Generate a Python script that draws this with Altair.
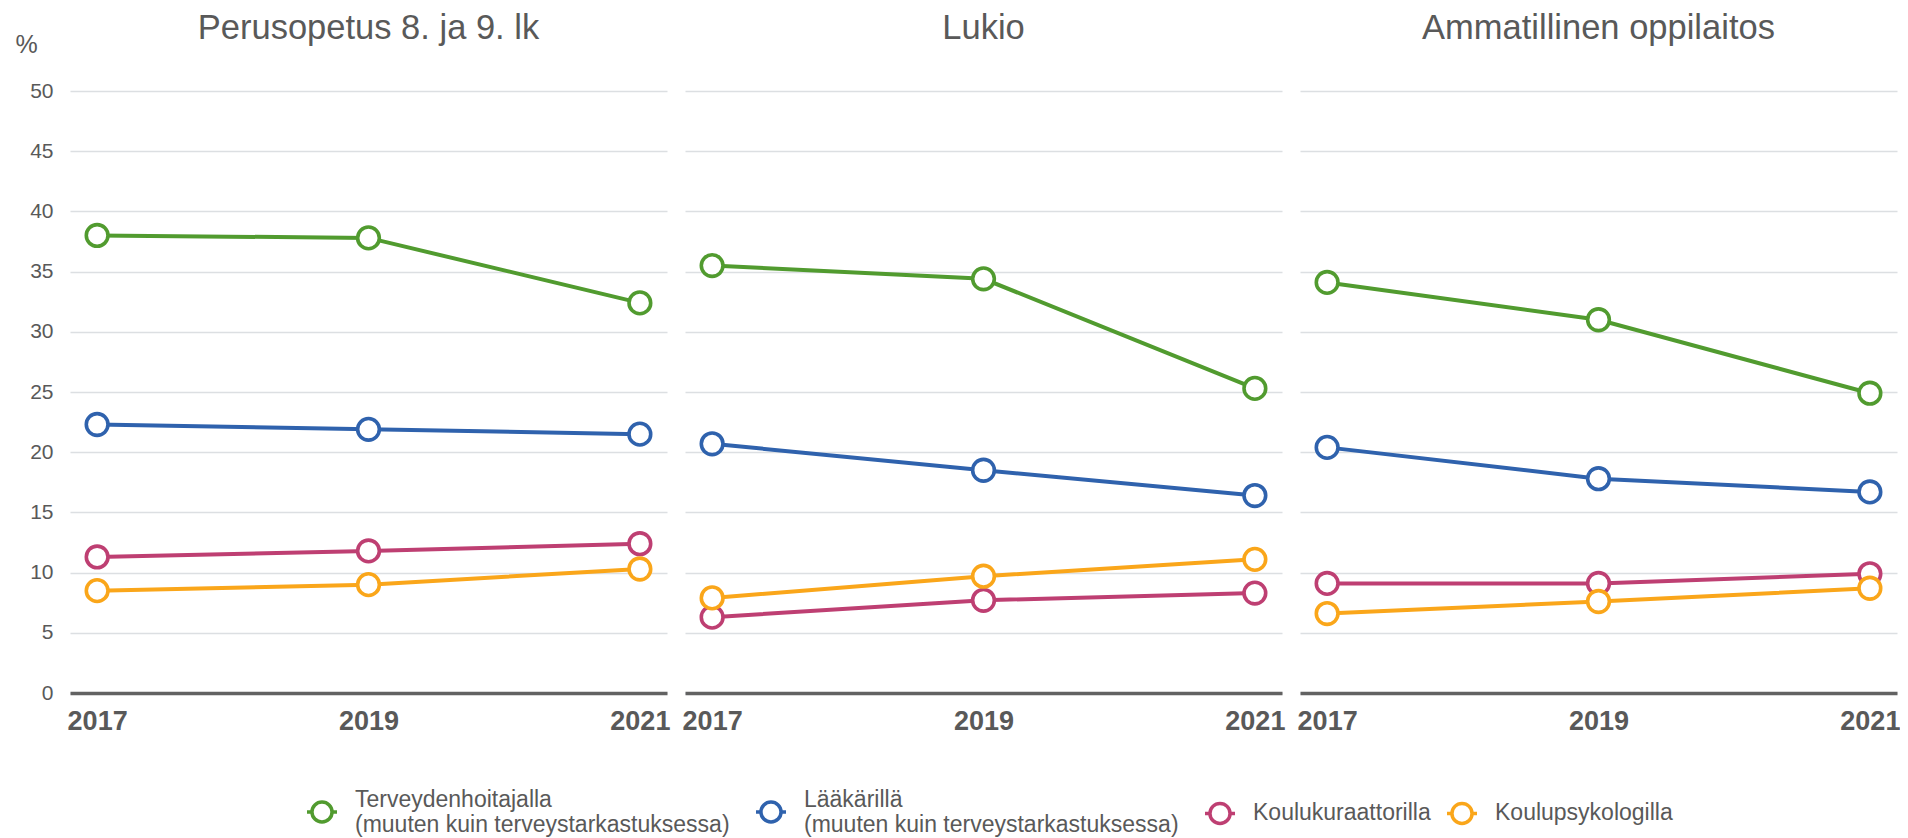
import altair as alt
import pandas as pd

panels = ["Perusopetus 8. ja 9. lk", "Lukio", "Ammatillinen oppilaitos"]
years = [2017, 2019, 2021]
series = [
    "Terveydenhoitajalla\n(muuten kuin terveystarkastuksessa)",
    "Lääkärillä\n(muuten kuin terveystarkastuksessa)",
    "Koulukuraattorilla",
    "Koulupsykologilla",
]
colors = ["#519B2F", "#2F62AD", "#BE3F72", "#FAA61A"]

perus_terv = [38.0, 37.8, 32.4]
perus_laak = [22.3, 21.9, 21.5]
perus_kur = [11.3, 11.8, 12.4]
perus_psyk = [8.5, 9.0, 10.3]

lukio_terv = [35.5, 34.4, 25.3]
lukio_laak = [20.7, 18.5, 16.4]
lukio_kur = [6.3, 7.7, 8.3]
lukio_psyk = [7.9, 9.7, 11.1]

amm_terv = [34.1, 31.0, 24.9]
amm_laak = [20.4, 17.8, 16.7]
amm_kur = [9.1, 9.1, 9.9]
amm_psyk = [6.6, 7.6, 8.7]

panel_values = [
    [perus_terv, perus_laak, perus_kur, perus_psyk],
    [lukio_terv, lukio_laak, lukio_kur, lukio_psyk],
    [amm_terv, amm_laak, amm_kur, amm_psyk],
]

rows = []
for p, vals in zip(panels, panel_values):
    for s, v in zip(series, vals):
        for y, val in zip(years, v):
            rows.append({"panel": p, "series": s, "year": y, "value": val})
df = pd.DataFrame(rows)

TXT = "#595959"
FONT = "Liberation Sans"

legend_symbol = ("M-1,0H-0.67M0.67,0H1M0.67,0A0.67,0.67 0 1 1 -0.67,0"
                 "A0.67,0.67 0 1 1 0.67,0Z")

common_legend = dict(
    title=None,
    orient="none",
    direction="horizontal",
    symbolType=legend_symbol,
    symbolSize=900,
    symbolStrokeWidth=3.5,
    symbolFillColor="white",
    symbolOpacity=1,
    labelFontSize=23,
    labelFont=FONT,
    labelColor=TXT,
    labelLimit=600,
    labelOffset=16,
)

# two-line entries (green, blue)
color_a = alt.Color(
    "series:N",
    scale=alt.Scale(domain=series[:2], range=colors[:2]),
    legend=alt.Legend(
        columns=2,
        columnPadding=19,
        legendX=235,
        legendY=704,
        labelBaseline="bottom",
        labelExpr="split(datum.label, '\\n')",
        **common_legend,
    ),
)
# one-line entries (pink, orange)
stroke_b = alt.Stroke(
    "series:N",
    scale=alt.Scale(domain=series[2:], range=colors[2:]),
    legend=alt.Legend(
        columns=2,
        columnPadding=9,
        legendX=1133,
        legendY=705,
        labelBaseline="middle",
        **common_legend,
    ),
)


def panel_chart(i, p):
    yaxis = alt.Axis(
        values=list(range(0, 51, 5)),
        grid=True,
        gridColor="#dcdfe2",
        gridWidth=1.5,
        domain=False,
        ticks=False,
        tickSize=0,
        labels=(i == 0),
        labelFontSize=21,
        labelFont=FONT,
        labelColor=TXT,
        labelPadding=17,
        title="%",
        titleAngle=0,
        titleX=-55,
        titleY=-39,
        titleAlign="left",
        titleBaseline="alphabetic",
        titleFontSize=25,
        titleFont=FONT,
        titleFontWeight="normal",
        titleColor=TXT,
        titleOpacity=1 if i == 0 else 0,
    )
    xaxis = alt.Axis(
        values=years,
        format="d",
        grid=False,
        ticks=False,
        tickSize=0,
        domain=True,
        domainColor="#626262",
        domainWidth=3.5,
        labelFontSize=27,
        labelFont=FONT,
        labelFontWeight="bold",
        labelColor=TXT,
        labelPadding=15,
        labelFlush=False,
        title=None,
    )
    x = alt.X("year:Q", scale=alt.Scale(domain=[2016.8, 2021.2], nice=False, zero=False), axis=xaxis)
    y = alt.Y("value:Q", scale=alt.Scale(domain=[0, 50], nice=False), axis=yaxis)
    dp = df[df["panel"] == p]
    da = dp[dp["series"].isin(series[:2])]
    db = dp[dp["series"].isin(series[2:])]

    base_a = alt.Chart(da).encode(x=x, y=y, color=color_a, detail="series:N")
    base_b = alt.Chart(db).encode(x=x, y=y, stroke=stroke_b, detail="series:N")
    pt_kw = dict(shape="circle", filled=False, fill="white", size=470,
                 strokeWidth=3.6, opacity=1)
    layers = [
        base_a.mark_line(strokeWidth=4),
        base_a.mark_point(**pt_kw),
        base_b.mark_line(strokeWidth=4),
        base_b.mark_point(**pt_kw),
    ]
    return alt.layer(*layers).properties(
        width=597,
        height=602,
        title=alt.TitleParams(
            text=p,
            fontSize=34.5,
            font=FONT,
            fontWeight="normal",
            color=TXT,
            anchor="middle",
            frame="group",
            baseline="alphabetic",
            offset=-41.5,
        ),
    )


chart = alt.hconcat(
    *[panel_chart(i, p) for i, p in enumerate(panels)],
    spacing=18,
    bounds="flush",
).properties(
    padding={"left": 7, "top": 3, "right": 0, "bottom": 0}
).configure(font=FONT).configure_view(stroke=None)

chart.save("out.html", embed_options={"renderer": "svg", "actions": False})
